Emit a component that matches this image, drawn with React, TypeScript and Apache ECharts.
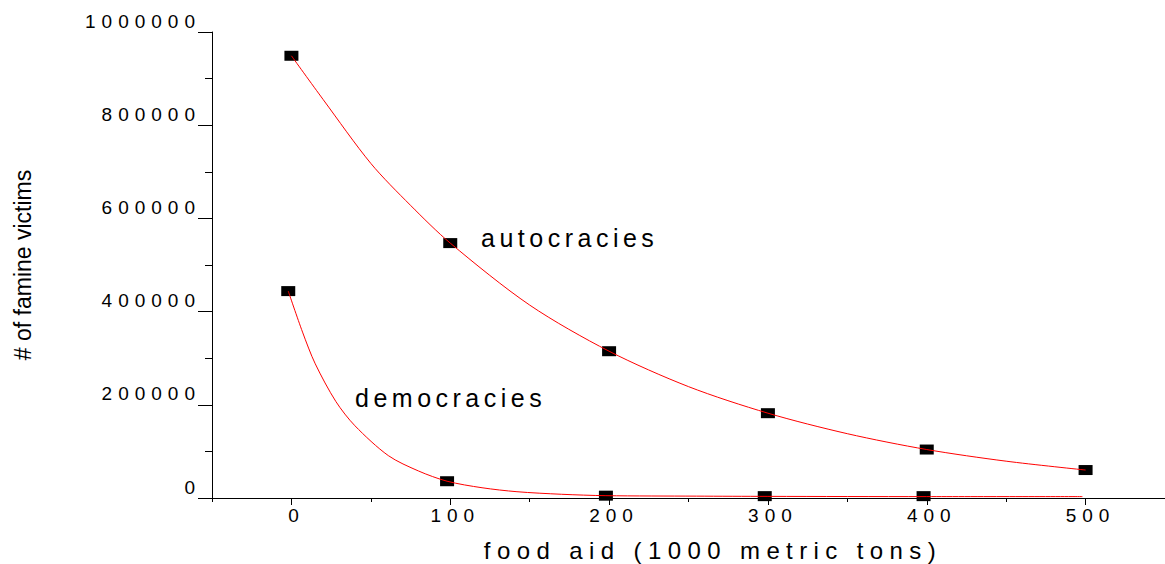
import React, { useEffect, useRef } from "react";
import * as echarts from "echarts";

// Data
const autoX = [0, 100, 200, 300, 400, 500];
const autoY = [949000, 547000, 315000, 182000, 104000, 60000];
const demoX = [-2, 98, 198, 298, 398];
const demoY = [444000, 36000, 5000, 4000, 4000];
const autoCurveX = [0, 20, 50, 75, 100, 150, 200, 250, 300, 350, 400, 450, 500];
const autoCurveY = [949000, 855000, 718000, 628000, 547000, 414000, 315000, 239000, 182000, 138000, 104000, 79000, 60000];
const demoCurveX = [-2, 7, 15, 28, 40, 61, 80, 98, 120, 142, 170, 198, 255, 300, 400, 498];
const demoCurveY = [444000, 356000, 288000, 207000, 155000, 91000, 58000, 36000, 22000, 13500, 8000, 5000, 4000, 3500, 3000, 3000];
const xLabelValues = [0, 100, 200, 300, 400, 500];
const xMinorTickValues = [-50, 50, 150, 250, 350, 450, 550];

const FONT = '"Liberation Sans", Arial, sans-serif';

const zip = (xs: number[], ys: number[]) => xs.map((x, i) => [x, ys[i]]);

export default function App() {
  const ref = useRef<HTMLDivElement>(null);
  useEffect(() => {
    document.body.style.margin = "0";
    const chart = echarts.init(ref.current!, null, { renderer: "svg" });
    chart.setOption({
      animation: false,
      backgroundColor: "#ffffff",
      grid: { left: 212, top: 32, bottom: 66, right: -7, containLabel: false },
      xAxis: [
        {
          type: "value",
          min: -50,
          max: 550,
          interval: 50,
          splitLine: { show: false },
          axisLine: { show: true, onZero: false, lineStyle: { color: "#000", width: 1 } },
          axisTick: { show: true, length: 7, customValues: xLabelValues, lineStyle: { color: "#000" } },
          axisLabel: {
            customValues: xLabelValues,
            formatter: (v: number) => String(v),
            fontSize: 19,
            fontFamily: FONT,
            color: "#000",
            margin: 8,
            padding: [0, 0, 0, 10],
          },
        },
        {
          type: "value",
          min: -50,
          max: 550,
          interval: 50,
          position: "bottom",
          splitLine: { show: false },
          axisLine: { show: false, onZero: false },
          axisTick: { show: true, length: 4, customValues: xMinorTickValues, lineStyle: { color: "#000" } },
          axisLabel: { show: false },
        },
      ],
      yAxis: {
        type: "value",
        min: 0,
        max: 1000000,
        interval: 200000,
        splitLine: { show: false },
        axisLine: { show: true, onZero: false, lineStyle: { color: "#000", width: 1 } },
        axisTick: { show: true, length: 14, lineStyle: { color: "#000" } },
        minorTick: { show: true, splitNumber: 2, length: 7, lineStyle: { color: "#000" } },
        minorSplitLine: { show: false },
        axisLabel: {
          formatter: (v: number) => String(v),
          fontSize: 19,
          fontFamily: FONT,
          color: "#000",
          margin: 11,
          verticalAlign: "bottom",
          lineHeight: 22,
        },
      },
      graphic: [
        {
          type: "text",
          x: 23,
          y: 265,
          rotation: Math.PI / 2,
          style: {
            text: "# of famine victims",
            fontSize: 23,
            fontFamily: FONT,
            fill: "#000",
            align: "center",
            verticalAlign: "middle",
          },
        },
        {
          type: "text",
          x: 713,
          y: 550,
          style: {
            text: "food aid (1000 metric tons)",
            fontSize: 24,
            fontFamily: FONT,
            fill: "#000",
            align: "center",
            verticalAlign: "middle",
          },
        },
        {
          type: "text",
          x: 481,
          y: 238,
          style: {
            text: "autocracies",
            fontSize: 25,
            fontFamily: FONT,
            fill: "#000",
            align: "left",
            verticalAlign: "middle",
          },
        },
        {
          type: "text",
          x: 355,
          y: 398,
          style: {
            text: "democracies",
            fontSize: 25,
            fontFamily: FONT,
            fill: "#000",
            align: "left",
            verticalAlign: "middle",
          },
        },
      ],
      series: [
        {
          name: "autocracies points",
          type: "scatter",
          symbol: "rect",
          symbolSize: [14, 10],
          itemStyle: { color: "#000", opacity: 1 },
          data: zip(autoX, autoY),
          z: 2,
        },
        {
          name: "democracies points",
          type: "scatter",
          symbol: "rect",
          symbolSize: [14, 10],
          itemStyle: { color: "#000", opacity: 1 },
          data: zip(demoX, demoY),
          z: 2,
        },
        {
          name: "autocracies fit",
          type: "line",
          smooth: 0.3,
          showSymbol: false,
          symbol: "none",
          lineStyle: { color: "#ff0000", width: 1 },
          data: zip(autoCurveX, autoCurveY),
          z: 3,
        },
        {
          name: "democracies fit",
          type: "line",
          smooth: 0.3,
          showSymbol: false,
          symbol: "none",
          lineStyle: { color: "#ff0000", width: 1 },
          data: zip(demoCurveX, demoCurveY),
          z: 3,
        },
      ],
    });
    return () => chart.dispose();
  }, []);
  return (
    <>
      <style>{`
        #chartbox text[style*="19px"] { letter-spacing: 6px; }
        #chartbox text[style*="24px"] { letter-spacing: 6.4px; }
        #chartbox text[style*="25px"] { letter-spacing: 4.5px; }
      `}</style>
      <div id="chartbox" ref={ref} style={{ width: 1165, height: 564, overflow: "hidden" }} />
    </>
  );
}
